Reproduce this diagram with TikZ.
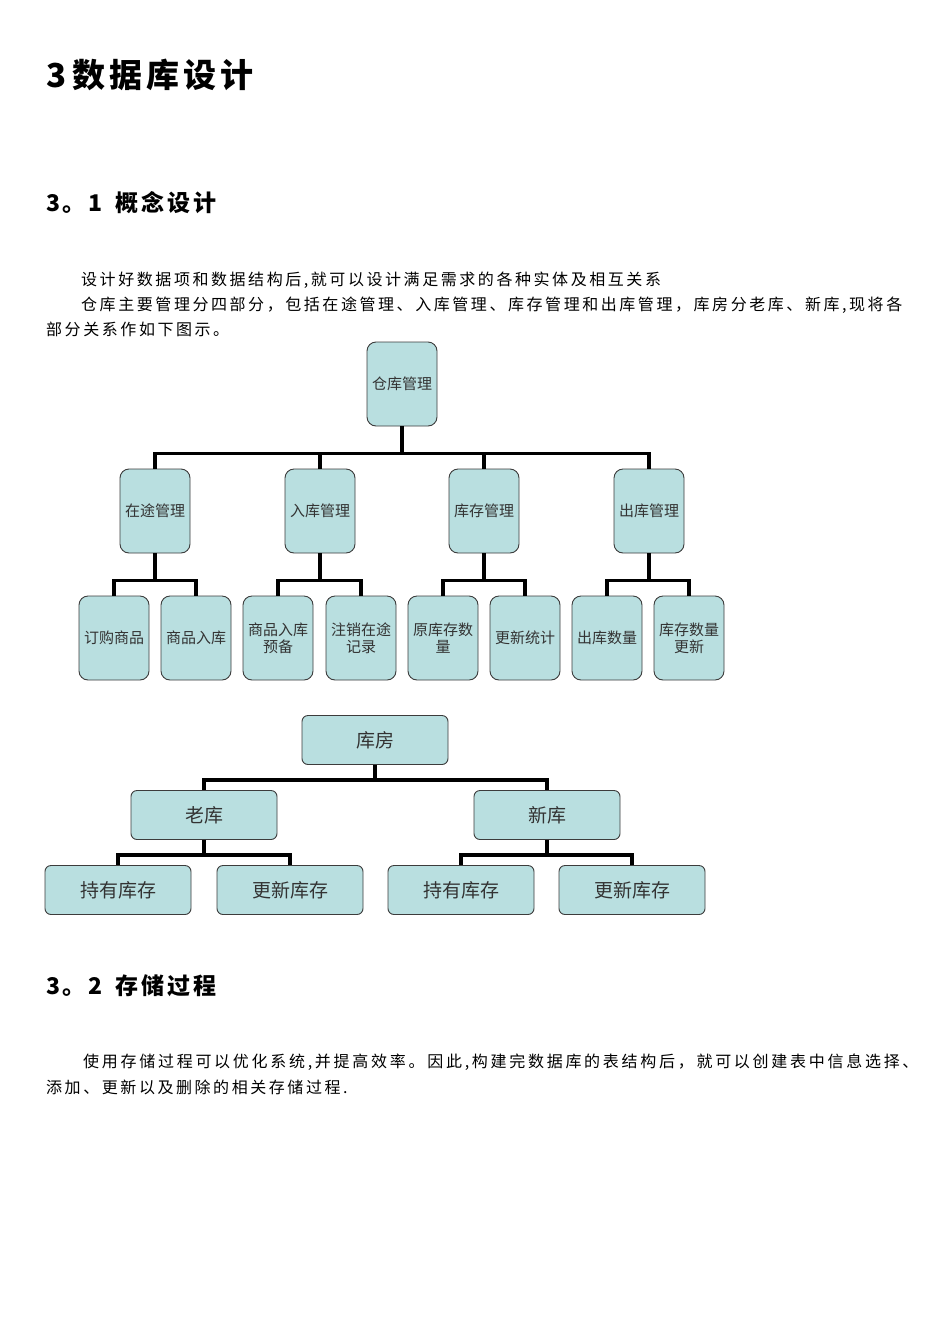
\documentclass[tikz,border=0pt]{standalone}
\usepackage{fontspec}
\newfontfamily\cjk{Noto Sans CJK SC}
\newfontfamily\cjkbody[LetterSpace=16]{Noto Sans CJK SC}
\newfontfamily\cjkhead[LetterSpace=12]{Noto Sans CJK SC}
\definecolor{boxfill}{HTML}{B9DFE0}
\definecolor{boxline}{HTML}{3C3C3C}
\definecolor{boxtext}{HTML}{333333}
\tikzset{
  tallbox/.style={draw=boxline, line width=0.9pt, fill=boxfill, rounded corners=9pt,
    minimum width=70pt, minimum height=84pt, align=center, inner sep=1pt,
    text=boxtext, font=\cjk\fontsize{15}{17}\selectfont},
  widebox/.style={draw=boxline, line width=0.9pt, fill=boxfill, rounded corners=6pt,
    minimum width=146pt, minimum height=49pt, align=center, inner sep=1pt,
    text=boxtext, font=\cjk\fontsize{19}{22}\selectfont},
  conn/.style={draw=black, line width=3.2pt},
  para/.style={anchor=west, inner sep=0pt, font=\cjkbody\fontsize{16}{18}\selectfont},
  head/.style={anchor=west, inner sep=0pt, font=\cjkhead\bfseries\fontsize{23}{26}\selectfont},
}
\begin{document}
\begin{tikzpicture}[x=1pt,y=-1pt]
\useasboundingbox[fill=white] (0,0) rectangle (950,1344);

% headings and text
\node[head, font=\cjkhead\bfseries\fontsize{33}{36}\selectfont] (title) at (46,75) {3\hspace{6pt}数据库设计};
\node[head] (h31) at (46,203) {3。1\hspace{13pt}概念设计};
\node[para] (p1) at (81,280) {设计好数据项和数据结构后,就可以设计满足需求的各种实体及相互关系};
\node[para] (p2) at (81,305) {仓库主要管理分四部分，包括在途管理、入库管理、库存管理和出库管理，库房分老库、新库,现将各};
\node[para] (p3) at (46,329) {部分关系作如下图示。};

% diagram 1
\node[tallbox] (root) at (402,384) {仓库管理};
\node[tallbox] (a) at (155,511) {在途管理};
\node[tallbox] (b) at (320,511) {入库管理};
\node[tallbox] (c) at (484,511) {库存管理};
\node[tallbox] (d) at (649,511) {出库管理};
\node[tallbox] (a1) at (114,638) {订购商品};
\node[tallbox] (a2) at (196,638) {商品入库};
\node[tallbox] (b1) at (278,638) {商品入库\\预备};
\node[tallbox] (b2) at (361,638) {注销在途\\记录};
\node[tallbox] (c1) at (443,638) {原库存数\\量};
\node[tallbox] (c2) at (525,638) {更新统计};
\node[tallbox] (d1) at (607,638) {出库数量};
\node[tallbox] (d2) at (689,638) {库存数量\\更新};

\foreach \ch in {a,b,c,d}{
  \draw[conn] (root.south) -- ++(0,27) -| (\ch.north);
}
\foreach \p in {a,b,c,d}{
  \draw[conn] (\p.south) -- ++(0,27) -| (\p1.north);
  \draw[conn] (\p.south) -- ++(0,27) -| (\p2.north);
}

% diagram 2
\node[widebox] (kf) at (375,740) {库房};
\node[widebox] (lk) at (204,815) {老库};
\node[widebox] (xk) at (547,815) {新库};
\node[widebox] (lk1) at (118,890) {持有库存};
\node[widebox] (lk2) at (290,890) {更新库存};
\node[widebox] (xk1) at (461,890) {持有库存};
\node[widebox] (xk2) at (632,890) {更新库存};

\draw[conn] (kf.south) -- ++(0,15) -| (lk.north);
\draw[conn] (kf.south) -- ++(0,15) -| (xk.north);
\draw[conn] (lk.south) -- ++(0,15) -| (lk1.north);
\draw[conn] (lk.south) -- ++(0,15) -| (lk2.north);
\draw[conn] (xk.south) -- ++(0,15) -| (xk1.north);
\draw[conn] (xk.south) -- ++(0,15) -| (xk2.north);

% section 3.2
\node[head] (h32) at (46,986) {3。2\hspace{13pt}存储过程};
\node[para, font=\cjkbody\addfontfeature{LetterSpace=17}\fontsize{16}{18}\selectfont] (q1) at (83,1062) {使用存储过程可以优化系统,并提高效率。因此,构建完数据库的表结构后，就可以创建表中信息选择、};
\node[para] (q2) at (46,1087) {添加、更新以及删除的相关存储过程.};
\end{tikzpicture}
\end{document}
